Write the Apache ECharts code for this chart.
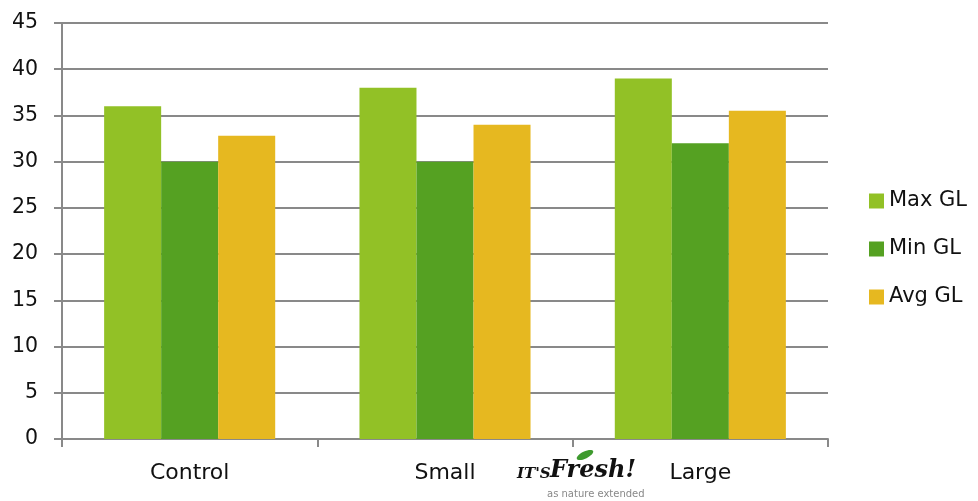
<!DOCTYPE html>
<html>
<head>
<meta charset="utf-8">
<script src="https://cdn.jsdelivr.net/npm/echarts@6/dist/echarts.min.js"></script>
<style>html,body{margin:0;padding:0;background:#fff}#c{width:978px;height:501px}</style>
</head>
<body>
<div id="c"></div>
<script>
var categories = ['Control', 'Small', 'Large'];
var maxGL = [36, 38, 39];
var minGL = [30, 30, 32];
var avgGL = [32.8, 34, 35.5];
var seriesNames = ['Max GL', 'Min GL', 'Avg GL'];

var chart = echarts.init(document.getElementById('c'));
var font = 'DejaVu Sans';
chart.setOption({
  animation: false,
  color: ['#92C126', '#55A122', '#E6B820'],
  grid: { left: 62, right: 150, top: 23, bottom: 62, containLabel: false },
  legend: {
    orient: 'vertical', left: 869, top: 190, padding: 0, itemWidth: 15, itemHeight: 15, itemGap: 26,
    icon: 'rect',
    textStyle: { fontFamily: font, fontSize: 21, lineHeight: 22, color: '#111' },
    data: seriesNames
  },
  xAxis: {
    type: 'category', data: categories,
    axisLine: { lineStyle: { color: '#898989', width: 2 } },
    axisTick: { show: true, length: 8, lineStyle: { color: '#898989', width: 2 } },
    axisLabel: { fontFamily: font, fontSize: 22, color: '#111', margin: 23 }
  },
  yAxis: {
    type: 'value', min: 0, max: 45, interval: 5,
    axisLine: { show: true, lineStyle: { color: '#898989', width: 2 } },
    axisTick: { show: true, length: 8, lineStyle: { color: '#898989', width: 2 } },
    splitLine: { lineStyle: { color: '#898989', width: 2 } },
    axisLabel: { fontFamily: font, fontSize: 20.5, color: '#111', margin: 24 }
  },
  series: [
    { name: seriesNames[0], type: 'bar', data: maxGL, barGap: '0%', barCategoryGap: '33%' },
    { name: seriesNames[1], type: 'bar', data: minGL, barGap: '0%', barCategoryGap: '33%' },
    { name: seriesNames[2], type: 'bar', data: avgGL, barGap: '0%', barCategoryGap: '33%' }
  ],
  graphic: [
    { type: 'text', left: 517, top: 467, style: { text: "IT'S", font: 'italic bold 15px "DejaVu Serif"', fill: '#111' } },
    { type: 'text', left: 550, top: 459, style: { text: 'Fresh!', font: 'italic bold 24px "DejaVu Serif"', fill: '#111' } },
    { type: 'text', left: 547, top: 489, style: { text: 'as nature extended', font: '10px "DejaVu Sans"', fill: '#888' } },
    { type: 'ellipse', x: 585, y: 455, rotation: 0.45, shape: { cx: 0, cy: 0, rx: 9, ry: 3.5 }, style: { fill: '#3E9A2E' } }
  ]
});
</script>
</body>
</html>
